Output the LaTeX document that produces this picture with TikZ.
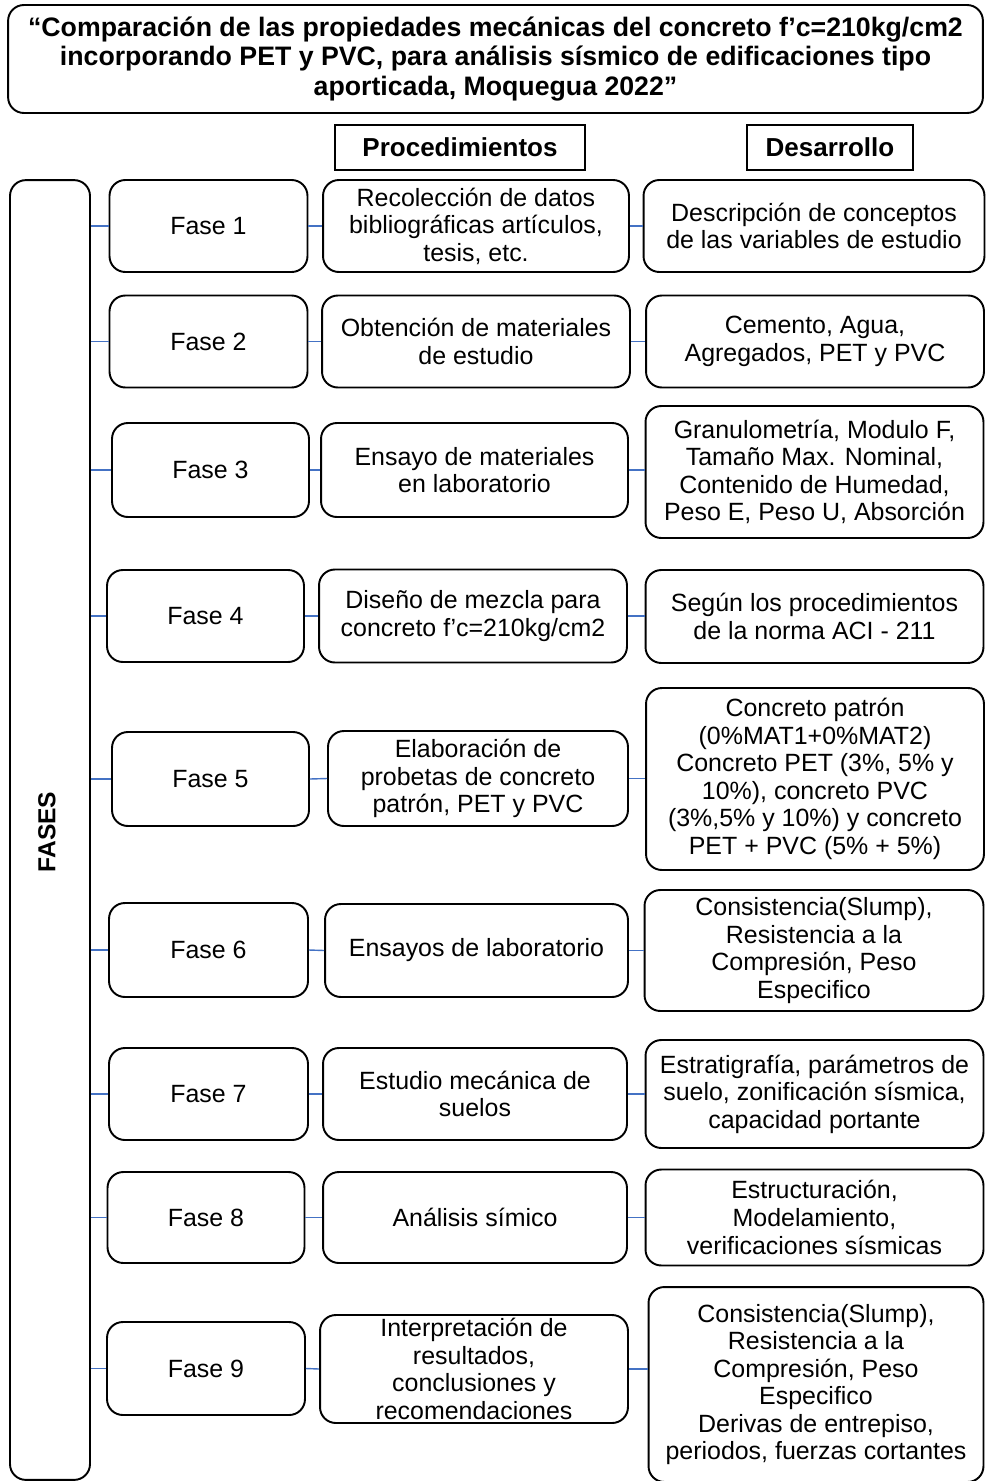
\documentclass[tikz,border=0pt]{standalone}
\usepackage{fontspec}
\setmainfont{Liberation Sans}
\usepackage{tikz}
\usetikzlibrary{positioning}
\definecolor{enlaceazul}{RGB}{68,114,196}

\begin{document}
\begin{tikzpicture}[x=0.02cm,y=-0.02cm,
    every node/.style={font=\fontsize{14.2}{15.7}\selectfont},
    caja/.style={draw,rounded corners=9pt,line width=1.1pt,align=center,inner sep=0pt},
    cabecera/.style={draw,line width=0.9pt,inner sep=0pt,font=\fontsize{14.8}{16}\selectfont\bfseries},
    enlace/.style={draw=enlaceazul,line width=0.8pt}]
          \useasboundingbox (0,0) rectangle (985,1481);
          % titulo y cabeceras
          \node[caja,minimum width=19.5cm,minimum height=2.16cm,font=\fontsize{15.2}{16.6}\selectfont\bfseries] (titulo) at (495.5,59)
            {“Comparación de las propiedades mecánicas del concreto f’c=210kg/cm2\\incorporando PET y PVC, para análisis sísmico de edificaciones tipo\\aporticada, Moquegua 2022”};
          \node[cabecera,minimum width=5.0cm,minimum height=0.9cm] (hproc) at (460,147.5) {Procedimientos};
          \node[cabecera,minimum width=3.32cm,minimum height=0.9cm] (hdes) at (830,147.5) {Desarrollo};

          \node[caja,minimum width=1.6cm,minimum height=26cm] (fases) at (50,830) {};
          \node[rotate=90,font=\fontsize{14}{15.6}\selectfont\bfseries] (fasestxt) at (47,832) {FASES};

          % fases
          \node[caja,minimum width=3.96cm,minimum height=1.84cm] (f1) at (208.5,226) {Fase 1};
          \node[caja,minimum width=3.96cm,minimum height=1.84cm] (f2) at (208.5,341.5) {Fase 2};
          \node[caja,minimum width=3.94cm,minimum height=1.88cm] (f3) at (210.5,470) {Fase 3};
          \node[caja,minimum width=3.94cm,minimum height=1.84cm] (f4) at (205.5,616) {Fase 4};
          \node[caja,minimum width=3.94cm,minimum height=1.88cm] (f5) at (210.5,779) {Fase 5};
          \node[caja,minimum width=3.98cm,minimum height=1.88cm] (f6) at (208.5,950) {Fase 6};
          \node[caja,minimum width=3.98cm,minimum height=1.84cm] (f7) at (208.5,1094) {Fase 7};
          \node[caja,minimum width=3.94cm,minimum height=1.82cm] (f8) at (206,1217.5) {Fase 8};
          \node[caja,minimum width=3.96cm,minimum height=1.86cm] (f9) at (206,1368.5) {Fase 9};

          % procedimientos
          \node[caja,minimum width=6.12cm,minimum height=1.84cm] (p1) at (476,226) {Recolección de datos\\bibliográficas artículos,\\tesis, etc.};
          \node[caja,minimum width=6.16cm,minimum height=1.84cm] (p2) at (476,341.5) {Obtención de materiales\\de estudio};
          \node[caja,minimum width=6.14cm,minimum height=1.88cm] (p3) at (474.5,470) {Ensayo de materiales\\en laboratorio};
          \node[caja,minimum width=6.16cm,minimum height=1.86cm] (p4) at (473,616) {Diseño de mezcla para\\concreto f’c=210kg/cm2};
          \node[caja,minimum width=6.0cm,minimum height=1.9cm] (p5) at (478,778.5) {Elaboración de\\probetas de concreto\\patrón, PET y PVC};
          \node[caja,minimum width=6.06cm,minimum height=1.86cm] (p6) at (476.5,950.5) {Ensayos de laboratorio};
          \node[caja,minimum width=6.08cm,minimum height=1.84cm] (p7) at (475,1094) {Estudio mecánica de\\suelos};
          \node[caja,minimum width=6.08cm,minimum height=1.82cm] (p8) at (475,1217.5) {Análisis símico};
          \node[caja,minimum width=6.16cm,minimum height=2.16cm] (p9) at (474,1369) {Interpretación de\\resultados,\\conclusiones y\\recomendaciones};

          % desarrollo
          \node[caja,minimum width=6.82cm,minimum height=1.84cm] (d1) at (814,226) {Descripción de conceptos\\de las variables de estudio};
          \node[caja,minimum width=6.76cm,minimum height=1.84cm] (d2) at (815,341.5) {Cemento, Agua,\\Agregados, PET y PVC};
          \node[caja,minimum width=6.76cm,minimum height=2.64cm] (d3) at (814.5,472) {Granulometría, Modulo F,\\Tamaño Max. Nominal,\\Contenido de Humedad,\\Peso E, Peso U, Absorción};
          \node[caja,minimum width=6.76cm,minimum height=1.86cm] (d4) at (814.5,616.5) {Según los procedimientos\\de la norma ACI - 211};
          \node[caja,minimum width=6.76cm,minimum height=3.64cm] (d5) at (815,779) {Concreto patrón\\(0\%MAT1+0\%MAT2)\\Concreto PET (3\%, 5\% y\\10\%), concreto PVC\\(3\%,5\% y 10\%) y concreto\\PET + PVC (5\% + 5\%)};
          \node[caja,minimum width=6.78cm,minimum height=2.42cm] (d6) at (814,950.5) {Consistencia(Slump),\\Resistencia a la\\Compresión, Peso\\Especifico};
          \node[caja,minimum width=6.76cm,minimum height=2.16cm] (d7) at (814.5,1094) {Estratigrafía, parámetros de\\suelo, zonificación sísmica,\\capacidad portante};
          \node[caja,minimum width=6.76cm,minimum height=1.92cm] (d8) at (814.5,1217.5) {Estructuración,\\Modelamiento,\\verificaciones sísmicas};
          \node[caja,minimum width=6.7cm,minimum height=3.9cm] (d9) at (816,1384.5) {Consistencia(Slump),\\Resistencia a la\\Compresión, Peso\\Especifico\\Derivas de entrepiso,\\periodos, fuerzas cortantes};

          % enlaces
          \foreach \i in {1,...,9} {
            \draw[enlace] (fases.east |- f\i.west) -- (f\i.west);
            \draw[enlace] (f\i.east) -- (p\i.west);
            \draw[enlace] (p\i.east) -- (p\i.east -| d\i.west);
          }
        \end{tikzpicture}
\end{document}
